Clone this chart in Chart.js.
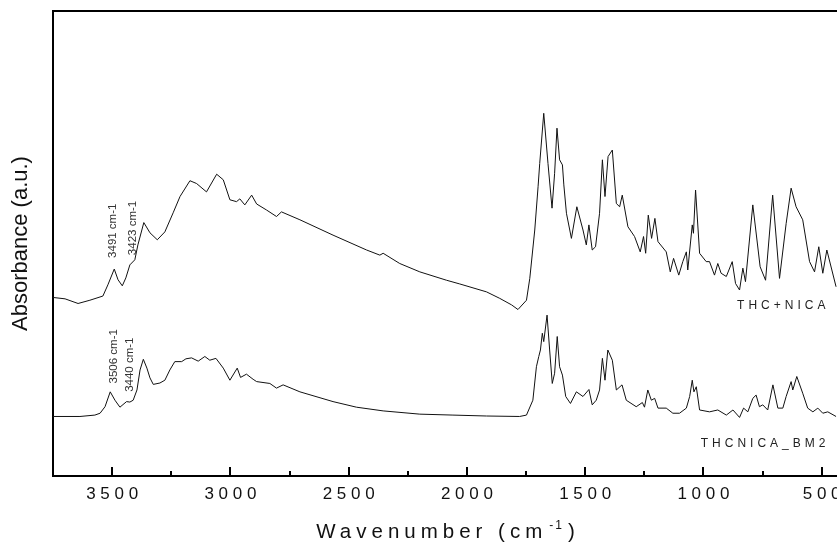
<!DOCTYPE html>
<html lang="en">

<head>
  <meta charset="UTF-8">
  <title>FTIR spectra</title>
  <script src="https://cdn.jsdelivr.net/npm/chart.js"></script>
  <style>
    body {
      margin: 0;
      background: #fff;
    }

    canvas {
      display: block;
    }
  </style>
</head>

<body>
  <canvas id="myChart" width="837" height="543"></canvas>

  <script>
    // wavenumber (cm-1) / absorbance (a.u.)
    const wnTop = [3750, 3699, 3644, 3594, 3539, 3518, 3491, 3475, 3457, 3442,
      3425, 3404, 3391, 3366, 3340, 3309, 3277, 3242, 3213, 3171,
      3143, 3101, 3058, 3030, 3002, 2974, 2960, 2939, 2910, 2889,
      2847, 2805, 2784, 2706, 2566, 2424, 2368, 2354, 2284, 2199,
      2086, 2030, 1917, 1861, 1811, 1784, 1748, 1734, 1713, 1699,
      1692, 1675, 1657, 1640, 1629, 1619, 1608, 1596, 1590, 1579,
      1558, 1535, 1509, 1495, 1484, 1470, 1456, 1439, 1427, 1416,
      1403, 1385, 1368, 1354, 1343, 1319, 1291, 1267, 1253, 1244,
      1233, 1219, 1205, 1192, 1157, 1140, 1126, 1104, 1087, 1072,
      1066, 1047, 1042, 1033, 1016, 988, 974, 953, 939, 925,
      903, 878, 864, 847, 833, 822, 791, 760, 737, 707,
      678, 650, 629, 608, 580, 551, 530, 512, 495, 478, 439];
    const absTop = [38.4, 38.1, 37.1, 37.8, 38.7, 41.1, 44.5, 42.2, 40.9, 42.6,
      45.4, 46.5, 49.7, 54.5, 52.3, 50.8, 52.5, 56.6, 60.1, 63.5,
      62.9, 61.1, 64.9, 63.7, 59.4, 59.0, 59.6, 58.3, 60.4, 58.5,
      57.2, 55.8, 56.8, 55.1, 51.8, 48.6, 47.5, 47.9, 45.7, 43.9,
      42.1, 41.3, 39.6, 38.2, 36.8, 35.8, 37.8, 42.5, 52.9, 62.2,
      67.2, 78.0, 67.2, 57.6, 65.1, 74.8, 68.0, 66.9, 62.6, 56.5,
      51.1, 57.9, 52.9, 49.7, 54.0, 48.6, 49.3, 56.5, 68.0, 60.1,
      68.7, 70.1, 58.6, 57.9, 60.4, 53.6, 51.5, 48.2, 51.5, 47.9,
      56.1, 51.1, 55.4, 50.4, 48.2, 43.9, 46.8, 43.2, 46.1, 48.2,
      44.3, 54.0, 52.2, 61.5, 47.9, 46.1, 46.1, 43.2, 45.7, 43.6,
      42.9, 46.1, 41.4, 40.0, 44.7, 41.8, 58.3, 45.0, 42.1, 60.4,
      42.5, 54.3, 61.9, 57.9, 55.1, 46.1, 43.9, 49.3, 43.6, 48.6, 40.7];

    const wnBottom = [3750, 3636, 3573, 3551, 3530, 3508, 3488, 3467, 3439, 3425,
      3411, 3395, 3382, 3368, 3353, 3340, 3326, 3298, 3277, 3256,
      3235, 3206, 3188, 3164, 3136, 3108, 3087, 3061, 3030, 3002,
      2971, 2957, 2932, 2904, 2889, 2833, 2805, 2777, 2706, 2566,
      2467, 2354, 2199, 2059, 1917, 1777, 1748, 1721, 1706, 1696,
      1689, 1681, 1675, 1661, 1650, 1639, 1629, 1618, 1608, 1596,
      1582, 1562, 1537, 1509, 1484, 1470, 1453, 1439, 1427, 1416,
      1404, 1385, 1368, 1344, 1326, 1284, 1258, 1249, 1235, 1220,
      1206, 1192, 1157, 1129, 1101, 1072, 1058, 1047, 1040, 1030,
      1016, 974, 939, 903, 875, 847, 830, 812, 791, 777,
      763, 749, 728, 706, 685, 664, 650, 629, 622, 605,
      580, 559, 537, 516, 495, 474, 439];
    const absBottom = [12.8, 12.8, 13.1, 13.5, 14.9, 18.1, 16.3, 14.8, 16.0, 15.9,
      16.3, 18.5, 22.8, 25.1, 23.2, 21.1, 19.7, 20.0, 20.6, 22.8,
      24.6, 24.6, 25.2, 25.4, 24.7, 25.7, 24.9, 25.3, 23.2, 20.6,
      23.2, 21.2, 21.9, 20.8, 20.3, 19.9, 18.9, 19.6, 18.1, 16.0,
      14.8, 14.0, 13.3, 13.1, 12.9, 12.8, 13.1, 16.3, 23.5, 25.7,
      27.1, 30.7, 28.9, 34.6, 27.1, 19.9, 22.1, 30.0, 23.5, 21.7,
      17.1, 15.6, 18.1, 17.1, 18.6, 15.3, 16.3, 18.5, 25.3, 20.6,
      27.1, 24.9, 18.5, 19.6, 16.3, 14.9, 15.8, 14.8, 18.5, 16.3,
      16.7, 14.6, 14.6, 13.5, 13.5, 14.6, 17.1, 20.6, 18.1, 19.2,
      14.2, 13.8, 14.2, 13.1, 14.2, 12.6, 14.6, 13.8, 16.7, 17.4,
      14.9, 15.3, 14.2, 19.6, 14.6, 14.6, 17.1, 20.3, 18.5, 21.4,
      17.8, 14.6, 13.8, 14.6, 13.5, 13.8, 12.8];

    const seriesNames = ['THC+NICA', 'THCNICA_BM2'];
    const xTicks = [3500, 3000, 2500, 2000, 1500, 1000, 500];
    const xMinorTicks = [3250, 2750, 2250, 1750, 1250, 750];
    const peakLabels = ['3491 cm-1', '3423 cm-1', '3506 cm-1', '3440 cm-1'];

    const FONT = "'Liberation Sans', Arial, sans-serif";
    const toPoints = (xs, ys) => xs.map((x, i) => ({ x: x, y: ys[i] }));

    // where the rotated peak labels and the series names sit (in data units)
    const peakLabelPos = [[3496, 46.9], [3412, 47.5], [3492, 19.9], [3425, 18.1]];
    const nameLabelPos = [[484, 35.9], [484, 6.3]];

    const extras = {
      id: 'extras',
      afterDraw(chart) {
        const { ctx, chartArea: a, scales: { x, y } } = chart;
        ctx.save();

        // top frame line
        ctx.strokeStyle = '#000';
        ctx.lineWidth = 2;
        ctx.beginPath();
        ctx.moveTo(a.left - 1, a.top);
        ctx.lineTo(a.right, a.top);
        ctx.stroke();

        // inward tick marks
        const tick = (v, len) => {
          const px = Math.round(x.getPixelForValue(v));
          ctx.beginPath();
          ctx.moveTo(px, a.bottom);
          ctx.lineTo(px, a.bottom - len);
          ctx.stroke();
        };
        xTicks.forEach(v => tick(v, 9));
        xMinorTicks.forEach(v => tick(v, 5));

        // peak labels
        ctx.fillStyle = '#333';
        ctx.font = '11.5px ' + FONT;
        ctx.textAlign = 'left';
        ctx.textBaseline = 'middle';
        peakLabels.forEach((t, i) => {
          ctx.save();
          ctx.translate(x.getPixelForValue(peakLabelPos[i][0]), y.getPixelForValue(peakLabelPos[i][1]));
          ctx.rotate(-Math.PI / 2);
          ctx.fillText(t, 0, 0);
          ctx.restore();
        });

        // series names
        ctx.fillStyle = '#222';
        ctx.font = '12px ' + FONT;
        ctx.letterSpacing = '4px';
        ctx.textAlign = 'right';
        ctx.textBaseline = 'alphabetic';
        seriesNames.forEach((t, i) => {
          ctx.fillText(t, x.getPixelForValue(nameLabelPos[i][0]) + 4, y.getPixelForValue(nameLabelPos[i][1]));
        });

        // x axis title with superscript
        ctx.fillStyle = '#111';
        ctx.textAlign = 'left';
        const main = 'Wavenumber (cm', sup = '-1', close = ')';
        ctx.font = '20.5px ' + FONT;
        ctx.letterSpacing = '5px';
        const wMain = ctx.measureText(main).width;
        const wClose = ctx.measureText(close).width;
        ctx.font = '12px ' + FONT;
        ctx.letterSpacing = '2px';
        const wSup = ctx.measureText(sup).width;
        const total = wMain + 2 + wSup + 4 + wClose;
        let x0 = (a.left + a.right) / 2 - total / 2 + 3;
        const base = a.bottom + 62;
        ctx.font = '20.5px ' + FONT;
        ctx.letterSpacing = '5px';
        ctx.fillText(main, x0, base);
        x0 += wMain + 2;
        ctx.font = '12px ' + FONT;
        ctx.letterSpacing = '2px';
        ctx.fillText(sup, x0, base - 9);
        x0 += wSup + 4;
        ctx.font = '20.5px ' + FONT;
        ctx.letterSpacing = '5px';
        ctx.fillText(close, x0, base);

        ctx.restore();
      }
    };

    const line = (label, data) => ({
      label: label,
      data: data,
      borderColor: '#111',
      borderWidth: 1,
      pointRadius: 0,
      tension: 0,
      fill: false
    });

    new Chart(document.getElementById('myChart').getContext('2d'), {
      type: 'line',
      data: {
        datasets: [
          line(seriesNames[0], toPoints(wnTop, absTop)),
          line(seriesNames[1], toPoints(wnBottom, absBottom))
        ]
      },
      options: {
        responsive: false,
        animation: false,
        devicePixelRatio: 1,
        layout: { padding: { top: 11, left: 0, right: 0, bottom: 0 } },
        plugins: {
          legend: { display: false },
          tooltip: { enabled: false }
        },
        scales: {
          x: {
            type: 'linear',
            reverse: true,
            min: 435,
            max: 3750,
            afterBuildTicks: s => { s.ticks = xTicks.map(v => ({ value: v })); },
            afterFit: s => { s.height = 67; s.paddingLeft = 0; s.paddingRight = 0; },
            grid: { display: false, drawTicks: false },
            border: { display: true, color: '#000', width: 2 },
            ticks: {
              autoSkip: false,
              maxRotation: 0,
              padding: 8,
              color: '#111',
              font: { family: FONT, size: 17 },
              callback: v => String(v).split('').join(' ')
            }
          },
          y: {
            min: 0,
            max: 100,
            afterFit: s => { s.width = 53; s.paddingTop = 0; s.paddingBottom = 0; },
            grid: { display: false, drawTicks: false },
            border: { display: true, color: '#000', width: 2 },
            ticks: { display: false },
            title: {
              display: true,
              text: 'Absorbance (a.u.)',
              color: '#111',
              font: { family: FONT, size: 22 },
              padding: { top: 8, bottom: 0 }
            }
          }
        }
      },
      plugins: [extras]
    });
  </script>
</body>

</html>
